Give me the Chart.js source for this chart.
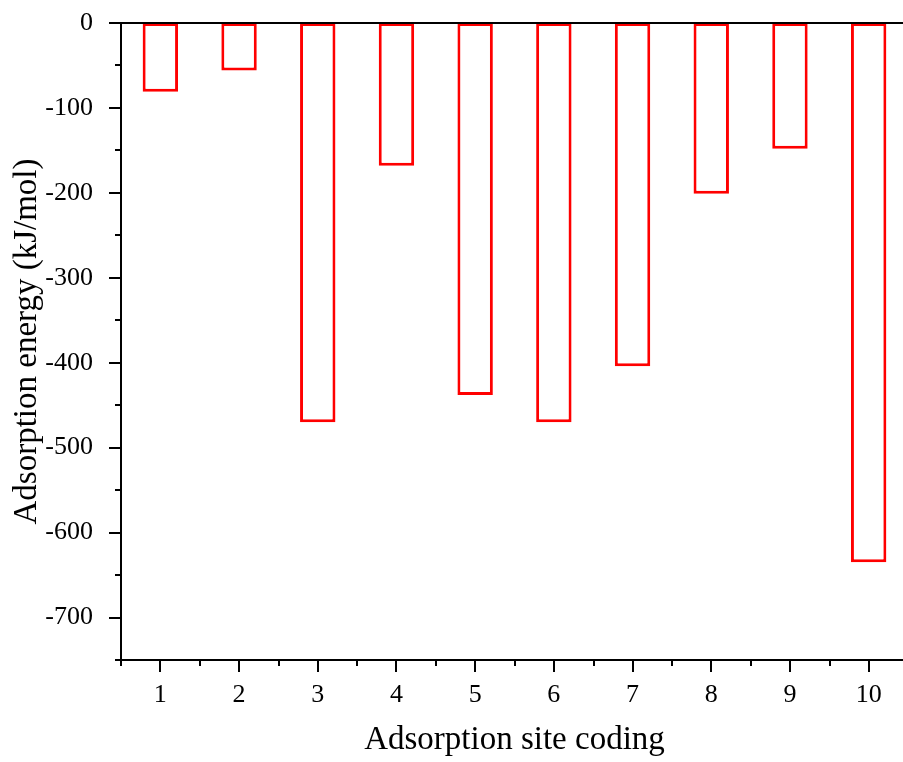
<!DOCTYPE html>
<html>
<head>
<meta charset="utf-8">
<script src="https://cdn.jsdelivr.net/npm/chart.js@4/dist/chart.umd.min.js"></script>
<style>
  html, body { margin: 0; padding: 0; background: #fff; overflow: hidden; }
  #wrap { width: 910px; height: 762px; }
</style>
</head>
<body>
<div id="wrap"><canvas id="chart" width="910" height="762"></canvas></div>
<script>
// adsorption energies per site
const siteCodes = ['1', '2', '3', '4', '5', '6', '7', '8', '9', '10'];
const adsorptionEnergy = [-81, -56, -470, -168, -438, -470, -404, -201, -148, -635];
const yTicks = [0, -100, -200, -300, -400, -500, -600, -700];

const FONT = "'Liberation Serif', 'Times New Roman', serif";

// axis lines plus major/minor tick marks, Origin style
const axisFrame = {
    id: 'axisFrame',
    afterDraw(chart) {
        const { ctx, chartArea: a, scales: { x, y } } = chart;
        ctx.save();
        ctx.strokeStyle = '#000';
        ctx.lineWidth = 2;
        ctx.beginPath();
        const y0 = y.getPixelForValue(0);
        // left + bottom axes
        ctx.moveTo(a.left, y0);
        ctx.lineTo(a.left, a.bottom);
        ctx.moveTo(a.left - 1, a.bottom);
        ctx.lineTo(a.right, a.bottom);
        // zero line across the top
        ctx.moveTo(a.left - 12, y0);
        ctx.lineTo(a.right, y0);
        // y ticks every 50, major every 100
        for (let v = -750; v <= 0; v += 50) {
            const py = Math.round(y.getPixelForValue(v));
            const len = v % 100 === 0 ? 12 : 6;
            ctx.moveTo(a.left - len, py);
            ctx.lineTo(a.left, py);
        }
        // x ticks: major at sites, minor between
        const step = x.getPixelForValue(1) - x.getPixelForValue(0);
        for (let i = 0; i < siteCodes.length; i++) {
            const px = Math.round(x.getPixelForValue(i));
            ctx.moveTo(px, a.bottom);
            ctx.lineTo(px, a.bottom + 12);
            const half = Math.round(px - step / 2);
            ctx.moveTo(half, a.bottom);
            ctx.lineTo(half, a.bottom + 6);
        }
        ctx.stroke();
        ctx.restore();
    }
};

new Chart(document.getElementById('chart'), {
    type: 'bar',
    data: {
        labels: siteCodes,
        datasets: [{
            data: adsorptionEnergy,
            backgroundColor: '#ffffff',
            borderColor: '#ff0000',
            borderWidth: 3,
            borderSkipped: false,
            categoryPercentage: 1,
            barPercentage: 0.45
        }]
    },
    options: {
        responsive: false,
        animation: false,
        layout: { padding: { top: 23, right: 2, left: 0, bottom: 0 } },
        plugins: { legend: { display: false }, tooltip: { enabled: false } },
        scales: {
            x: {
                grid: { display: false },
                border: { display: false },
                ticks: { color: '#000', font: { family: FONT, size: 26 }, padding: 12, maxRotation: 0 },
                title: {
                    display: true,
                    text: 'Adsorption site coding',
                    color: '#000',
                    font: { family: FONT, size: 33 },
                    padding: { top: 4, bottom: 2 }
                },
                afterFit(s) { s.height = 102; s.paddingLeft = 0; s.paddingRight = 0; }
            },
            y: {
                min: -750,
                max: 0,
                grid: { display: false },
                border: { display: false },
                afterBuildTicks(s) { s.ticks = yTicks.map(v => ({ value: v })); },
                ticks: { color: '#000', font: { family: FONT, size: 26 }, padding: 20 },
                title: {
                    display: true,
                    text: 'Adsorption energy (kJ/mol)',
                    color: '#000',
                    font: { family: FONT, size: 33 },
                    padding: { top: 8, bottom: 6 }
                },
                afterFit(s) { s.width = 121; s.paddingTop = 0; s.paddingBottom = 0; }
            }
        }
    },
    plugins: [axisFrame]
});
</script>
</body>
</html>
